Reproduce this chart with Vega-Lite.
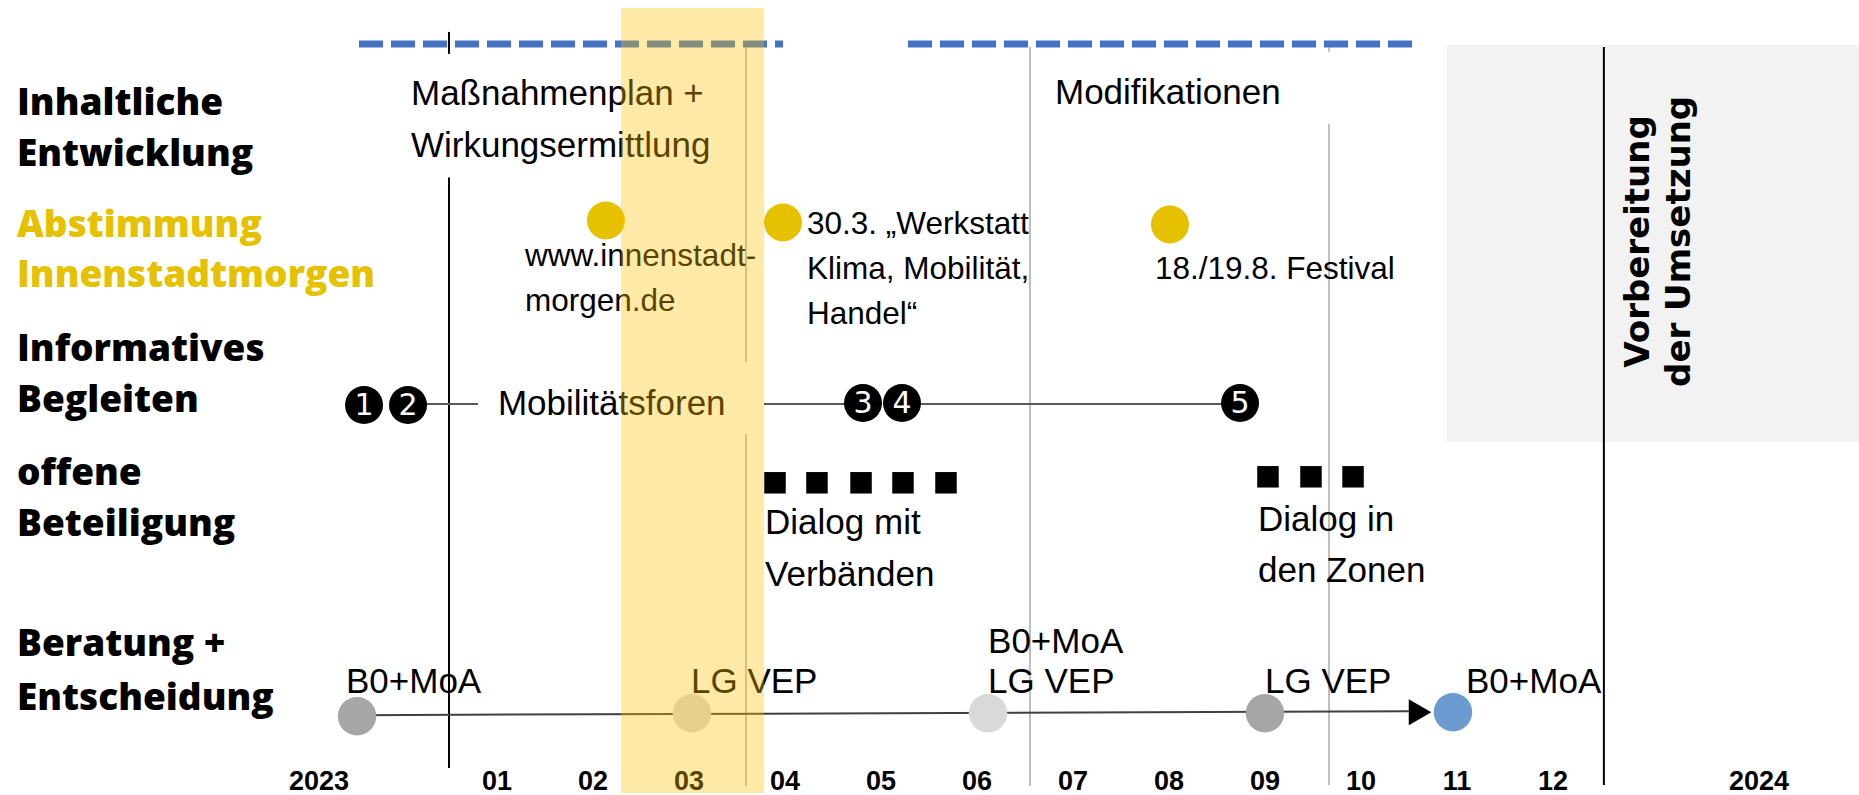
{
  "$schema": "https://vega.github.io/schema/vega-lite/v6.json",
  "width": 1859,
  "height": 795,
  "autosize": {"type": "fit", "contains": "padding"},
  "padding": 0,
  "background": "white",
  "config": {"view": {"stroke": null}},
  "datasets": {
    "band": [{"von": 2.292, "bis": 3.781, "oben": 0.8, "unten": 79.5}],
    "umsetzung": [{"von": 10.896, "bis": 15.1875, "oben": 4.5, "unten": 44.3}],
    "plan": [{"von": -0.4375, "bis": 3.979, "y": 4.4}, {"von": 5.281, "bis": 10.542, "y": 4.4}],
    "senkrecht": [
      {"x": 0.5, "oben": 3.2, "unten": 5.4, "art": "Jahr"},
      {"x": 0.5, "oben": 17.8, "unten": 77.0, "art": "Jahr"},
      {"x": 3.594, "oben": 4.7, "unten": 36.3, "art": "Phase"},
      {"x": 3.594, "oben": 43.5, "unten": 78.8, "art": "Phase"},
      {"x": 6.552, "oben": 4.7, "unten": 78.8, "art": "Phase"},
      {"x": 9.667, "oben": 4.7, "unten": 5.2, "art": "Phase"},
      {"x": 9.667, "oben": 12.4, "unten": 78.7, "art": "Phase"},
      {"x": 12.53, "oben": 4.7, "unten": 78.7, "art": "Jahr"}
    ],
    "foren": [
      {"von": 0.042, "bis": 0.802, "y": 40.5},
      {"von": 3.781, "bis": 4.8125, "y": 40.5},
      {"von": 5.208, "bis": 8.74, "y": 40.5}
    ],
    "beratungslinie": [{"von": -0.458, "bis": 10.51, "y": 71.7, "y2": 71.3}],
    "nummern": [
      {"x": -0.385, "y": 40.6, "nr": "1"},
      {"x": 0.073, "y": 40.6, "nr": "2"},
      {"x": 4.8125, "y": 40.4, "nr": "3"},
      {"x": 5.219, "y": 40.4, "nr": "4"},
      {"x": 8.74, "y": 40.4, "nr": "5"}
    ],
    "termine": [{"x": 2.135, "y": 22.1}, {"x": 3.979, "y": 22.3}, {"x": 8.01, "y": 22.5}],
    "gremien": [
      {"x": -0.458, "y": 71.8, "typ": "dunkel"},
      {"x": 3.031, "y": 71.5, "typ": "hell"},
      {"x": 6.115, "y": 71.5, "typ": "hell"},
      {"x": 9.0, "y": 71.5, "typ": "dunkel"},
      {"x": 10.958, "y": 71.4, "typ": "Ziel"}
    ],
    "pfeil": [{"x": 10.615, "y": 71.4}],
    "dialoge": [
      {"x": 3.896, "y": 48.4}, {"x": 4.333, "y": 48.4}, {"x": 4.792, "y": 48.4}, {"x": 5.229, "y": 48.4}, {"x": 5.677, "y": 48.4},
      {"x": 9.031, "y": 47.8}, {"x": 9.479, "y": 47.8}, {"x": 9.917, "y": 47.8}
    ],
    "texte": [
      {"x": 0.104, "y": 10.5, "text": "Maßnahmenplan +", "zeile": "Inhalt"},
      {"x": 0.104, "y": 15.7, "text": "Wirkungsermittlung", "zeile": "Inhalt"},
      {"x": 6.8125, "y": 10.4, "text": "Modifikationen", "zeile": "Inhalt"},
      {"x": 1.292, "y": 26.7, "text": "www.innenstadt-", "zeile": "Abstimmung"},
      {"x": 1.292, "y": 31.2, "text": "morgen.de", "zeile": "Abstimmung"},
      {"x": 4.229, "y": 23.5, "text": "30.3. „Werkstatt", "zeile": "Abstimmung"},
      {"x": 4.229, "y": 28.0, "text": "Klima, Mobilität,", "zeile": "Abstimmung"},
      {"x": 4.229, "y": 32.5, "text": "Handel“", "zeile": "Abstimmung"},
      {"x": 7.854, "y": 28.0, "text": "18./19.8. Festival", "zeile": "Abstimmung"},
      {"x": 1.01, "y": 41.6, "text": "Mobilitätsforen", "zeile": "Info"},
      {"x": 3.792, "y": 53.5, "text": "Dialog mit", "zeile": "offen"},
      {"x": 3.792, "y": 58.7, "text": "Verbänden", "zeile": "offen"},
      {"x": 8.927, "y": 53.2, "text": "Dialog in", "zeile": "offen"},
      {"x": 8.927, "y": 58.3, "text": "den Zonen", "zeile": "offen"},
      {"x": -0.573, "y": 69.5, "text": "B0+MoA", "zeile": "Beratung"},
      {"x": 3.021, "y": 69.5, "text": "LG VEP", "zeile": "Beratung"},
      {"x": 6.115, "y": 65.5, "text": "B0+MoA", "zeile": "Beratung"},
      {"x": 6.115, "y": 69.5, "text": "LG VEP", "zeile": "Beratung"},
      {"x": 9.0, "y": 69.5, "text": "LG VEP", "zeile": "Beratung"},
      {"x": 11.094, "y": 69.5, "text": "B0+MoA", "zeile": "Beratung"}
    ],
    "zeilen": [
      {"y": 11.5, "text": "Inhaltliche", "farbe": "schwarz"},
      {"y": 16.6, "text": "Entwicklung", "farbe": "schwarz"},
      {"y": 23.8, "text": "Abstimmung", "farbe": "gelb"},
      {"y": 28.8, "text": "Innenstadtmorgen", "farbe": "gelb"},
      {"y": 36.2, "text": "Informatives", "farbe": "schwarz"},
      {"y": 41.3, "text": "Begleiten", "farbe": "schwarz"},
      {"y": 48.6, "text": "offene", "farbe": "schwarz"},
      {"y": 53.7, "text": "Beteiligung", "farbe": "schwarz"},
      {"y": 65.8, "text": "Beratung +", "farbe": "schwarz"},
      {"y": 71.2, "text": "Entscheidung", "farbe": "schwarz"}
    ],
    "monate": [
      {"x": -0.854, "text": "2023"},
      {"x": 1, "text": "01"}, {"x": 2, "text": "02"}, {"x": 3, "text": "03"}, {"x": 4, "text": "04"},
      {"x": 5, "text": "05"}, {"x": 6, "text": "06"}, {"x": 7, "text": "07"}, {"x": 8, "text": "08"},
      {"x": 9, "text": "09"}, {"x": 10, "text": "10"}, {"x": 11, "text": "11"}, {"x": 12, "text": "12"},
      {"x": 14.146, "text": "2024"}
    ],
    "vorbereitung": [
      {"x": 13.0, "y": 24.2, "text": "Vorbereitung"},
      {"x": 13.43, "y": 24.2, "text": "der Umsetzung"}
    ]
  },
  "layer": [
    {
      "data": {"name": "umsetzung"},
      "mark": {"type": "rect", "color": "#F2F2F2"},
      "encoding": {
        "x": {"field": "von", "type": "quantitative", "scale": {"domain": [-4.177, 15.1875], "nice": false, "zero": false}, "axis": null},
        "x2": {"field": "bis"},
        "y": {"field": "oben", "type": "quantitative", "scale": {"domain": [0, 79.5], "reverse": true, "nice": false, "zero": false}, "axis": null},
        "y2": {"field": "unten"}
      }
    },
    {
      "data": {"name": "senkrecht"},
      "transform": [{"filter": "datum.art == 'Phase'"}],
      "mark": {"type": "rule", "color": "#BFBFBF", "strokeWidth": 2},
      "encoding": {
        "x": {"field": "x", "type": "quantitative"},
        "y": {"field": "oben", "type": "quantitative"},
        "y2": {"field": "unten"}
      }
    },
    {
      "data": {"name": "senkrecht"},
      "transform": [{"filter": "datum.art == 'Jahr'"}],
      "mark": {"type": "rule", "color": "#000000", "strokeWidth": 2},
      "encoding": {
        "x": {"field": "x", "type": "quantitative"},
        "y": {"field": "oben", "type": "quantitative"},
        "y2": {"field": "unten"}
      }
    },
    {
      "data": {"name": "plan"},
      "mark": {"type": "rule", "color": "#4472C4", "strokeWidth": 7, "strokeDash": [24, 8], "strokeCap": "butt"},
      "encoding": {
        "x": {"field": "von", "type": "quantitative"},
        "x2": {"field": "bis"},
        "y": {"field": "y", "type": "quantitative"}
      }
    },
    {
      "data": {"name": "foren"},
      "mark": {"type": "rule", "color": "#595959", "strokeWidth": 2},
      "encoding": {
        "x": {"field": "von", "type": "quantitative"},
        "x2": {"field": "bis"},
        "y": {"field": "y", "type": "quantitative"}
      }
    },
    {
      "data": {"name": "beratungslinie"},
      "mark": {"type": "rule", "color": "#404040", "strokeWidth": 2},
      "encoding": {
        "x": {"field": "von", "type": "quantitative"},
        "x2": {"field": "bis"},
        "y": {"field": "y", "type": "quantitative"},
        "y2": {"field": "y2"}
      }
    },
    {
      "data": {"name": "pfeil"},
      "mark": {"type": "point", "shape": "triangle-right", "filled": true, "color": "#000000", "size": 676, "opacity": 1},
      "encoding": {
        "x": {"field": "x", "type": "quantitative"},
        "y": {"field": "y", "type": "quantitative"}
      }
    },
    {
      "data": {"name": "termine"},
      "mark": {"type": "circle", "color": "#E5C100", "size": 1444, "opacity": 1},
      "encoding": {
        "x": {"field": "x", "type": "quantitative"},
        "y": {"field": "y", "type": "quantitative"}
      }
    },
    {
      "data": {"name": "gremien"},
      "mark": {"type": "circle", "size": 1480, "opacity": 1},
      "encoding": {
        "x": {"field": "x", "type": "quantitative"},
        "y": {"field": "y", "type": "quantitative"},
        "color": {"field": "typ", "type": "nominal", "scale": {"domain": ["dunkel", "hell", "Ziel"], "range": ["#A6A6A6", "#D9D9D9", "#6C9BD2"]}, "legend": null}
      }
    },
    {
      "data": {"name": "dialoge"},
      "mark": {"type": "point", "shape": "square", "filled": true, "color": "#000000", "size": 462, "opacity": 1},
      "encoding": {
        "x": {"field": "x", "type": "quantitative"},
        "y": {"field": "y", "type": "quantitative"}
      }
    },
    {
      "data": {"name": "nummern"},
      "mark": {"type": "circle", "color": "#000000", "size": 1444, "opacity": 1},
      "encoding": {
        "x": {"field": "x", "type": "quantitative"},
        "y": {"field": "y", "type": "quantitative"}
      }
    },
    {
      "data": {"name": "nummern"},
      "mark": {"type": "text", "color": "#FFFFFF", "font": "DejaVu Sans", "fontSize": 30, "align": "center", "baseline": "middle", "dy": 1},
      "encoding": {
        "x": {"field": "x", "type": "quantitative"},
        "y": {"field": "y", "type": "quantitative"},
        "text": {"field": "nr"}
      }
    },
    {
      "data": {"name": "texte"},
      "transform": [{"filter": "datum.zeile != 'Abstimmung'"}],
      "mark": {"type": "text", "color": "#000000", "font": "Liberation Sans", "fontSize": 35, "align": "left", "baseline": "alphabetic"},
      "encoding": {
        "x": {"field": "x", "type": "quantitative"},
        "y": {"field": "y", "type": "quantitative"},
        "text": {"field": "text"}
      }
    },
    {
      "data": {"name": "texte"},
      "transform": [{"filter": "datum.zeile == 'Abstimmung'"}],
      "mark": {"type": "text", "color": "#000000", "font": "Liberation Sans", "fontSize": 31.5, "align": "left", "baseline": "alphabetic"},
      "encoding": {
        "x": {"field": "x", "type": "quantitative"},
        "y": {"field": "y", "type": "quantitative"},
        "text": {"field": "text"}
      }
    },
    {
      "data": {"name": "zeilen"},
      "transform": [{"filter": "datum.farbe == 'schwarz'"}],
      "mark": {"type": "text", "color": "#000000", "font": "Open Sans", "fontWeight": 800, "fontSize": 37, "align": "left", "baseline": "alphabetic"},
      "encoding": {
        "x": {"datum": -4.0, "type": "quantitative"},
        "y": {"field": "y", "type": "quantitative"},
        "text": {"field": "text"}
      }
    },
    {
      "data": {"name": "zeilen"},
      "transform": [{"filter": "datum.farbe == 'gelb'"}],
      "mark": {"type": "text", "color": "#E5C100", "font": "Open Sans", "fontWeight": 800, "fontSize": 37, "align": "left", "baseline": "alphabetic"},
      "encoding": {
        "x": {"datum": -4.0, "type": "quantitative"},
        "y": {"field": "y", "type": "quantitative"},
        "text": {"field": "text"}
      }
    },
    {
      "data": {"name": "monate"},
      "mark": {"type": "text", "color": "#000000", "font": "Liberation Sans", "fontWeight": "bold", "fontSize": 27, "align": "center", "baseline": "alphabetic"},
      "encoding": {
        "x": {"field": "x", "type": "quantitative"},
        "y": {"datum": 79.2, "type": "quantitative"},
        "text": {"field": "text"}
      }
    },
    {
      "data": {"name": "vorbereitung"},
      "mark": {"type": "text", "color": "#000000", "font": "DejaVu Sans", "fontWeight": "bold", "fontSize": 34, "align": "center", "baseline": "alphabetic", "angle": 270},
      "encoding": {
        "x": {"field": "x", "type": "quantitative"},
        "y": {"field": "y", "type": "quantitative"},
        "text": {"field": "text"}
      }
    },
    {
      "data": {"name": "band"},
      "mark": {"type": "rect", "color": "#FFC000", "opacity": 0.35},
      "encoding": {
        "x": {"field": "von", "type": "quantitative"},
        "x2": {"field": "bis"},
        "y": {"field": "oben", "type": "quantitative"},
        "y2": {"field": "unten"}
      }
    }
  ]
}
